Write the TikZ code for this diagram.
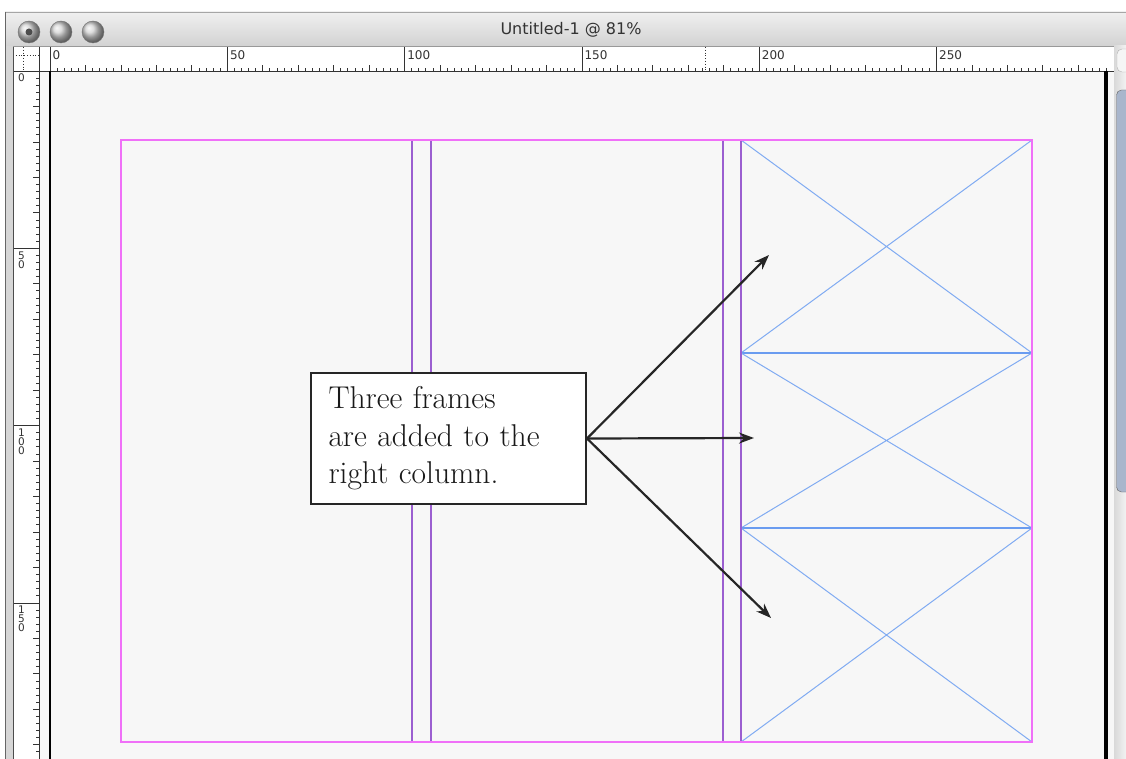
\documentclass[tikz,border=0pt]{standalone}
\usepackage{fontspec}
\newfontfamily\uifont{DejaVu Sans}
\usetikzlibrary{arrows.meta}
\definecolor{pagebg}{HTML}{F7F7F7}
\definecolor{margincol}{HTML}{F070F8}
\definecolor{guidecol}{HTML}{9B5FD0}
\definecolor{framecol}{HTML}{6A9CF0}
\definecolor{chrome}{HTML}{D6D6D6}
\definecolor{thumbcol}{HTML}{A9B6CC}
\begin{document}
\begin{tikzpicture}[x=1pt,y=-1pt,
  tick/.style={line width=0.8pt, black!80},
  rulerlabel/.style={font=\uifont\fontsize{12}{12}\selectfont, inner sep=0pt, text=black!80},
  vlabel/.style={font=\uifont\fontsize{10.5}{9}\selectfont, inner sep=0pt, align=center, text=black!80},
  callout/.style={draw=black!85, line width=2pt, fill=white, align=left, text width=240pt,
    inner xsep=17.5pt, minimum height=131pt, text=black!90, font=\fontsize{31.5}{37.5}\selectfont},
  pointer/.style={line width=2.2pt, black!85, -{Stealth[length=15pt,width=11pt]}}]
  \useasboundingbox (0,0) rectangle (1126,759);
  \fill[white] (0,0) rectangle (1126,759);
  % window chrome
  \shade[top color=gray!12, bottom color=gray!35] (5,12) rectangle (1126,46);
  \draw[gray!70] (5,12) -- (1126,12);
  \draw[gray!80] (5,46) -- (1126,46);
  \fill[chrome] (5,46) rectangle (13,759);
  \draw[black!60] (5,12) -- (5,759);
  \foreach \x in {29,61,93}
    \shade[ball color=gray!35, draw=black!55] (\x,32) circle (11);
  \fill[black!70] (29,32) circle (3.5);
  \node[font=\uifont\fontsize{16}{16}\selectfont, text=black!80] (title) at (571,30) {Untitled-1 @ 81\%};
  % page area
  \fill[pagebg] (13,71) rectangle (1114,759);
  \fill[white] (13,47) rectangle (1114,71);
  \fill[white] (13,47) rectangle (39,759);
  % horizontal ruler
  \foreach \i in {0,2,...,298}
    \draw[tick] ({50+3.546*\i},71) -- ++(0,-3);
  \foreach \i in {0,10,...,290}
    \draw[tick] ({50+3.546*\i},71) -- ++(0,-6);
  \foreach \i in {0,50,...,250} {
    \draw[tick] ({50+3.546*\i},71) -- ({50+3.546*\i},47);
    \node[rulerlabel, anchor=north west] (h\i) at ({52.5+3.546*\i},50) {\i};
  }
  \draw[tick, dotted] (705,47) -- (705,71);
  % vertical ruler
  \foreach \i in {0,2,...,194}
    \draw[tick] (39,{71+3.546*\i}) -- ++(-3,0);
  \foreach \i in {0,10,...,190}
    \draw[tick] (39,{71+3.546*\i}) -- ++(-6,0);
  \foreach \i/\txt in {0/0, 50/{5\\0}, 100/{1\\0\\0}, 150/{1\\5\\0}} {
    \draw[tick] (39,{71+3.546*\i}) -- (13,{71+3.546*\i});
    \node[vlabel, anchor=north] (v\i) at (21.5,{74+3.546*\i}) {\txt};
  }
  \draw[tick, dotted] (13,55) -- (39,55);
  \draw[tick, dotted] (23,47) -- (23,71);
  \draw[black!80, line width=0.8pt] (13,71) -- (1114,71);
  \draw[black!80, line width=0.8pt] (39,47) -- (39,759);
  \draw[black!70] (13,47) -- (13,759);
  \draw[black!70] (1114,47) -- (1114,71);
  % page edges
  \draw[black, line width=1.2pt] (50,71) -- (50,759);
  \draw[black, line width=4pt] (1106,71) -- (1106,759);
  % scroll bar
  \shade[left color=gray!30, right color=gray!10] (1114,46) rectangle (1126,759);
  \draw[gray!60, fill=gray!8, rounded corners=5pt] (1117,49) rectangle (1132,72);
  \draw[black!60, fill=thumbcol, rounded corners=5pt] (1116.5,90) rectangle (1132,492);
  % frames in the right column
  \foreach \ya/\yb in {140/353, 353/528, 528/742} {
    \draw[framecol, line width=1.3pt] (741,\ya) rectangle (1032,\yb);
    \draw[framecol!85, line width=1pt] (741,\ya) -- (1032,\yb) (741,\yb) -- (1032,\ya);
  }
  % column guides and margins
  \foreach \x in {412,431,723,741}
    \draw[guidecol, line width=1.6pt] (\x,140) -- (\x,742);
  \draw[margincol, line width=1.6pt] (121,140) rectangle (1032,742);
  % callout
  \node[callout] (note) at (448.5,438.5) {Three frames\\ are added to the\\ right column.};
  \coordinate (topframe) at (769,255);
  \coordinate (midframe) at (754,438);
  \coordinate (lowframe) at (771,618);
  \draw[pointer] (note.east) -- (topframe);
  \draw[pointer] (note.east) -- (midframe);
  \draw[pointer] (note.east) -- (lowframe);
\end{tikzpicture}
\end{document}
